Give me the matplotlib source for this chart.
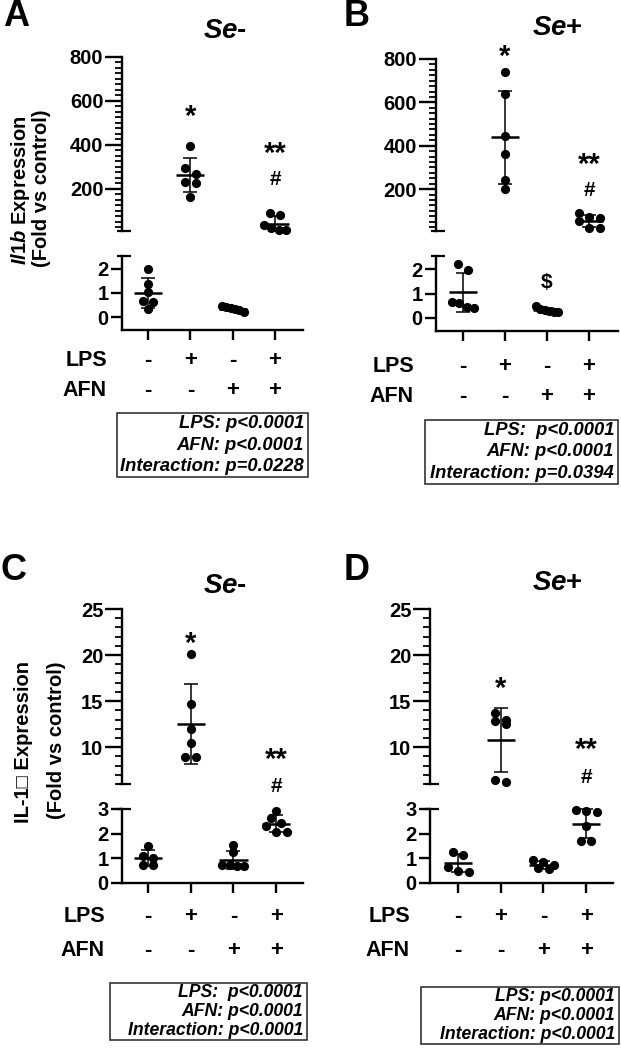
import numpy as np
import matplotlib
matplotlib.use('Agg')
import matplotlib.pyplot as plt
import matplotlib.transforms as mtransforms
from matplotlib.ticker import MultipleLocator, FixedLocator
from matplotlib.patches import Rectangle

plt.rcParams['font.family'] = ['Liberation Sans', 'DejaVu Sans']
plt.rcParams['font.weight'] = 'bold'
plt.rcParams['mathtext.fontset'] = 'custom'
plt.rcParams['mathtext.it'] = 'Liberation Sans:bold:italic'
plt.rcParams['mathtext.rm'] = 'Liberation Sans:bold'

W, H = 621, 1050

# ---- data -------------------------------------------------------------
groups = [1, 2, 3, 4]
lps_signs = ['-', '+', '-', '+']
afn_signs = ['-', '-', '+', '+']

# Il1b mRNA, fold vs control (ctrl, LPS, AFN, LPS+AFN)
il1b_se_minus = [[2.0, 1.36, 1.05, 0.65, 0.62, 0.33],
                 [395, 297, 268, 233, 229, 165],
                 [0.45, 0.42, 0.38, 0.35, 0.30, 0.22],
                 [90, 80, 35, 22, 15, 15]]
il1b_se_plus = [[2.2, 1.95, 0.65, 0.6, 0.45, 0.4],
                [738, 640, 446, 363, 243, 200],
                [0.5, 0.35, 0.32, 0.28, 0.25, 0.22],
                [88, 72, 66, 52, 22, 20]]
# IL-1 protein, fold vs control
il1_se_minus = [[1.5, 1.1, 1.0, 0.72, 0.72],
                [20.1, 14.7, 12.0, 10.4, 8.9, 8.9],
                [1.55, 1.25, 0.75, 0.72, 0.7, 0.7],
                [2.92, 2.62, 2.45, 2.3, 2.08, 2.05]]
il1_se_plus = [[1.25, 1.12, 0.65, 0.5, 0.45],
               [13.7, 13.0, 12.8, 12.55, 6.45, 6.2],
               [0.93, 0.85, 0.75, 0.6, 0.57],
               [2.95, 2.9, 2.88, 2.3, 1.7, 1.7]]

stats_a = ['LPS: p<0.0001', 'AFN: p<0.0001', 'Interaction: p=0.0228']
stats_b = ['LPS:  p<0.0001', 'AFN: p<0.0001', 'Interaction: p=0.0394']
stats_c = ['LPS:  p<0.0001', 'AFN: p<0.0001', 'Interaction: p<0.0001']
stats_d = ['LPS: p<0.0001', 'AFN: p<0.0001', 'Interaction: p<0.0001']

# significance marks: (group, label, which axis, y value)
sig_a = [(2, '*', 'top', 559), (4, '**', 'top', 391), (4, '#', 'top', 241)]
sig_b = [(2, '*', 'top', 842), (4, '**', 'top', 346), (4, '#', 'top', 193),
         (3, '$', 'bot', 1.47)]
sig_c = [(2, '*', 'top', 22.0), (4, '**', 'top', 9.4), (4, '#', 'top', 5.7)]
sig_d = [(2, '*', 'top', 17.1), (4, '**', 'top', 10.5), (4, '#', 'top', 6.7)]

fig = plt.figure(figsize=(W / 100, H / 100), dpi=100)


def fx(px):
    return px / W


def fy(py):
    return 1 - py / H


def add_ax(left, right, top, bottom):
    return fig.add_axes([left / W, 1 - bottom / H, (right - left) / W, (bottom - top) / H])


def swarm(ax, x0, values, step_px=10.5, gap_px=7.0, max_width=22.0):
    """Spread dots sideways when they sit at nearly the same height."""
    pts = np.column_stack([np.full(len(values), x0), values])
    ys = ax.transData.transform(pts)[:, 1]
    order = np.argsort(-ys)
    rows = []
    for i in order:
        if rows and ys[rows[-1][0]] - ys[i] < gap_px:
            rows[-1].append(i)
        else:
            rows.append([i])
    offsets = np.zeros(len(values))
    for row in rows:
        n = len(row)
        step = step_px if n < 3 else min(step_px, max_width / (n - 1))
        for k, i in enumerate(sorted(row)):
            offsets[i] = (k - (n - 1) / 2) * step
    px_unit = ax.transData.transform([[1, 0]])[0, 0] - ax.transData.transform([[0, 0]])[0, 0]
    return x0 + offsets / px_unit


def end_cap(ax, y):
    ax.plot([-0.025, 0.05], [y, y], transform=ax.get_yaxis_transform(),
            color='k', lw=1.6, clip_on=False, solid_capstyle='butt')


def draw_panel(data, left, right, xlim, top_geo, bot_geo, top_ylim, bot_ylim,
               top_major, top_minor, bot_major, sigs, signs_y, label_right, box, stats, stats_fs):
    ax_t = add_ax(left, right, *top_geo)
    ax_b = add_ax(left, right, *bot_geo)
    for ax, ylim in ((ax_t, top_ylim), (ax_b, bot_ylim)):
        ax.set_xlim(*xlim)
        ax.set_ylim(*ylim)
        ax.patch.set_alpha(0)
        for s in ('top', 'right'):
            ax.spines[s].set_visible(False)
        ax.spines['left'].set_linewidth(1.7)
        ax.tick_params(axis='y', labelsize=14.5, pad=1.5, width=1.7)
    ax_t.spines['bottom'].set_visible(False)
    ax_t.set_xticks([])
    ax_t.yaxis.set_major_locator(FixedLocator(top_major))
    ax_t.yaxis.set_minor_locator(MultipleLocator(top_minor))
    ax_t.tick_params(axis='y', which='major', length=12)
    ax_t.tick_params(axis='y', which='minor', length=5, width=1.3)
    ax_b.yaxis.set_major_locator(FixedLocator(bot_major))
    ax_b.tick_params(axis='y', which='major', length=8)
    ax_b.spines['bottom'].set_linewidth(1.7)
    ax_b.set_xticks(groups)
    ax_b.set_xticklabels([])
    ax_b.tick_params(axis='x', length=7.5, width=1.7)
    end_cap(ax_t, top_ylim[0])
    end_cap(ax_b, bot_ylim[1])

    for g, vals in zip(groups, data):
        vals = np.asarray(vals, dtype=float)
        m, sd = vals.mean(), vals.std(ddof=1)
        ax = ax_t if m > bot_ylim[1] else ax_b
        xs = swarm(ax, g, vals)
        ax.plot(xs, vals, 'o', color='black', ms=5.6, clip_on=False, zorder=3)
        ax.errorbar(g, m, yerr=sd, fmt='none', ecolor='black', elinewidth=1.1,
                    capsize=5.2, capthick=1.1, clip_on=False, zorder=4)
        ax.hlines(m, g - 0.33, g + 0.33, color='black', lw=1.8, clip_on=False, zorder=4)

    for g, txt, which, y in sigs:
        ax = ax_t if which == 'top' else ax_b
        if '*' in txt:
            fs = 21
            # asterisks sit high in the glyph box: pull them down to centre them
            trans = mtransforms.offset_copy(ax.transData, fig=fig, y=-0.24 * fs, units='points')
        else:
            fs = 15
            trans = ax.transData
        ax.text(g, y, txt, ha='center', va='center', fontsize=fs, clip_on=False, transform=trans)

    tr = mtransforms.blended_transform_factory(ax_b.transData, fig.transFigure)
    for name, signs, y in (('LPS', lps_signs, signs_y[0]), ('AFN', afn_signs, signs_y[1])):
        fig.text(fx(label_right), fy(y), name, ha='right', va='center', fontsize=15.5)
        for g, s in zip(groups, signs):
            ax_b.text(g, fy(y), s, transform=tr, ha='center', va='center', fontsize=16)

    bl, bt, br, bb = box
    fig.add_artist(Rectangle((fx(bl), fy(bb)), (br - bl) / W, (bb - bt) / H,
                             transform=fig.transFigure, fill=False, lw=1.1, edgecolor='#222222'))
    nrow = len(stats)
    row_h = (bb - bt) / nrow
    for i, s in enumerate(stats):
        fig.text(fx(br - 4), fy(bt + row_h * (i + 0.5)), s, ha='right', va='center',
                 fontsize=stats_fs, style='italic')
    return ax_t, ax_b


# Panel A
draw_panel(il1b_se_minus, 122, 303, (0.386, 4.66), (57, 231), (256, 330), (9, 800), (-0.54, 2.54),
           [200, 400, 600, 800], 25, [0, 1, 2], sig_a, (360, 390), 107,
           (117, 413, 308, 477), stats_a, 13.2)
# Panel B
draw_panel(il1b_se_plus, 436, 618, (0.357, 4.69), (59, 231), (256, 331), (7, 800), (-0.54, 2.54),
           [200, 400, 600, 800], 25, [0, 1, 2], sig_b, (366, 396), 414,
           (425, 420, 618, 484), stats_b, 13.2)
# Panel C
draw_panel(il1_se_minus, 122, 303, (0.39, 4.63), (609, 784), (809, 883), (6, 25), (0, 3),
           [10, 15, 20, 25], 1, [0, 1, 2, 3], sig_c, (916, 950), 105,
           (110, 983, 307, 1040), stats_c, 12.7)
# Panel D
draw_panel(il1_se_plus, 430, 613, (0.344, 4.63), (609, 784), (809, 883), (6, 25), (0, 3),
           [10, 15, 20, 25], 1, [0, 1, 2, 3], sig_d, (916, 951), 410,
           (421, 987, 619, 1044), stats_d, 12.7)

# panel letters and titles
for letter, x, y in (('A', 16, 17), ('B', 357, 17), ('C', 14, 570), ('D', 357, 570)):
    fig.text(fx(x), fy(y), letter, ha='center', va='center', fontsize=26)
for title, x, y in ((r'$\mathit{Se}$-', 225, 31), (r'$\mathit{Se}$+', 557, 28),
                    (r'$\mathit{Se}$-', 225, 586), (r'$\mathit{Se}$+', 557, 583)):
    fig.text(fx(x), fy(y), title, ha='center', va='center', fontsize=20)

# y-axis labels
fig.text(fx(21), fy(190), r'$\mathit{Il1b}$ Expression', rotation=90, ha='center', va='center', fontsize=14.5)
fig.text(fx(42), fy(188), '(Fold vs control)', rotation=90, ha='center', va='center', fontsize=14.5)
fig.text(fx(24), fy(742), 'IL-1\u25a1 Expression', rotation=90, ha='center', va='center', fontsize=14.5)
fig.text(fx(56), fy(740), '(Fold vs control)', rotation=90, ha='center', va='center', fontsize=14.5)

fig.savefig('out.png', dpi=100)
